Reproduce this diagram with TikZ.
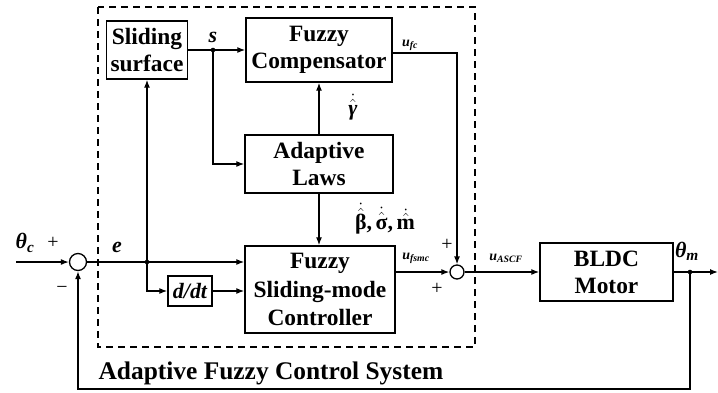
\RequirePackage{fix-cm}
\documentclass[tikz,border=0pt]{standalone}
\usepackage{amsmath,bm}
\usepackage{fontspec}
\setmainfont{Liberation Serif}
\usetikzlibrary{arrows.meta}
\newcommand{\ubf}[1]{\text{\bfseries\upshape #1}}
\newcommand{\ibf}[1]{\text{\bfseries\itshape #1}}
\begin{document}
\begin{tikzpicture}[x=1bp,y=-1bp, >={Latex[length=8bp,width=6bp]}, line width=1.3bp,
  blk/.style={draw, line width=1.4bp, align=center, font=\fontsize{23.5}{27}\selectfont\bfseries, inner sep=0pt},
  sumc/.style={draw, circle, fill=white, line width=1.3bp, inner sep=0pt},
  lab/.style={font=\fontsize{22}{26}\selectfont\bfseries\itshape, inner sep=0pt},
  sml/.style={font=\fontsize{14}{16}\selectfont\bfseries\itshape, inner sep=0pt},
  pm/.style={font=\fontsize{20}{24}\selectfont, inner sep=0pt}]
\useasboundingbox (0,0) rectangle (718,392);
% dashed group
\draw[dash pattern=on 7bp off 5bp, line width=1.3bp] (98,7) rectangle (475,347);
% blocks
\node[blk, minimum width=81bp, minimum height=58bp] (ss) at (147,50) {Sliding\\surface};
\node[blk, minimum width=146bp, minimum height=64bp] (fc) at (319,50) {Fuzzy\\Compensator};
\node[blk, minimum width=148bp, minimum height=58bp] (al) at (319,164) {Adaptive\\Laws};
\node[blk, minimum width=150bp, minimum height=87bp, font=\fontsize{23.5}{29}\selectfont\bfseries] (fsmc) at (320,289.5) {Fuzzy\\Sliding-mode\\Controller};
\node[blk, minimum width=44bp, minimum height=30bp, font=\fontsize{22}{24}\selectfont\bfseries\itshape] (ddt) at (190,291) {d/dt};
\node[blk, minimum width=133bp, minimum height=58bp] (bldc) at (606.5,272) {BLDC\\Motor};
% summing junctions
\node[sumc, minimum size=17bp] (s1) at (78,262) {};
\node[sumc, minimum size=14bp] (s2) at (457,272) {};
% branch points and free ends
\coordinate (js) at (213,50);
\coordinate (je) at (147,262);
\coordinate (jm) at (690,272);
\coordinate (in) at (16,262);
\coordinate (out) at (718,272);
\coordinate (fb) at (690,389);
% connectors
\draw[->] (in) -- (s1.west);
\draw[->] (s1.east) -- (s1.east -| fsmc.west);
\draw[->] (je) -- (je |- ss.south);
\draw[->] (je) |- (ddt.west);
\draw[->] (ddt.east) -- (ddt.east -| fsmc.west);
\draw[->] (ss.east) -- (fc.west);
\draw[->] (js) |- (al.west);
\draw[->] (al.north) -- (fc.south);
\draw[->] (al.south) -- (al.south |- fsmc.north);
\draw[->] ([yshift=-3bp]fc.east) -| (s2.north);
\draw[->] (fsmc.east |- s2) -- (s2.west);
\draw[->] (s2.east) -- (bldc.west);
\draw[->] (bldc.east) -- (out);
\draw[->] (jm) -- (fb) -| (s1.south);
\fill (js) circle (2.3);
\fill (je) circle (2.3);
\fill (jm) circle (2.3);
% labels
\node[lab] (lthc) at (25,243) {θ\textsubscript{c}};
\node[pm] (lp1) at (53,243) {+};
\node[pm] (lm1) at (62,290) {−};
\node[lab] (le) at (117,247) {e};
\node[lab] (ls) at (213,37) {s};
\node[inner sep=0pt, font=\fontsize{22}{24}\selectfont] (lg) at (353,107) {$\dot{\hat{\ibf{γ}}}$};
\node[inner sep=0pt, font=\fontsize{22}{24}\selectfont] (lb) at (385,219) {$\dot{\hat{\ubf{β}}}\ubf{,}\,\dot{\hat{\ubf{σ}}}\ubf{,}\,\dot{\hat{\ubf{m}}}$};
\node[sml] (lufc) at (410,45) {u\textsubscript{fc}};
\node[sml] (lufsmc) at (416,258) {u\textsubscript{fsmc}};
\node[sml] (luascf) at (506,258) {u\textsubscript{ASCF}};
\node[pm] (lp2) at (447,245) {+};
\node[pm] (lp3) at (437,289) {+};
\node[lab] (lthm) at (687,251) {θ\textsubscript{m}};
\node[anchor=west, inner sep=0pt, font=\fontsize{25.5}{29}\selectfont\bfseries] (title) at (98,373) {Adaptive Fuzzy Control System};
\end{tikzpicture}
\end{document}
